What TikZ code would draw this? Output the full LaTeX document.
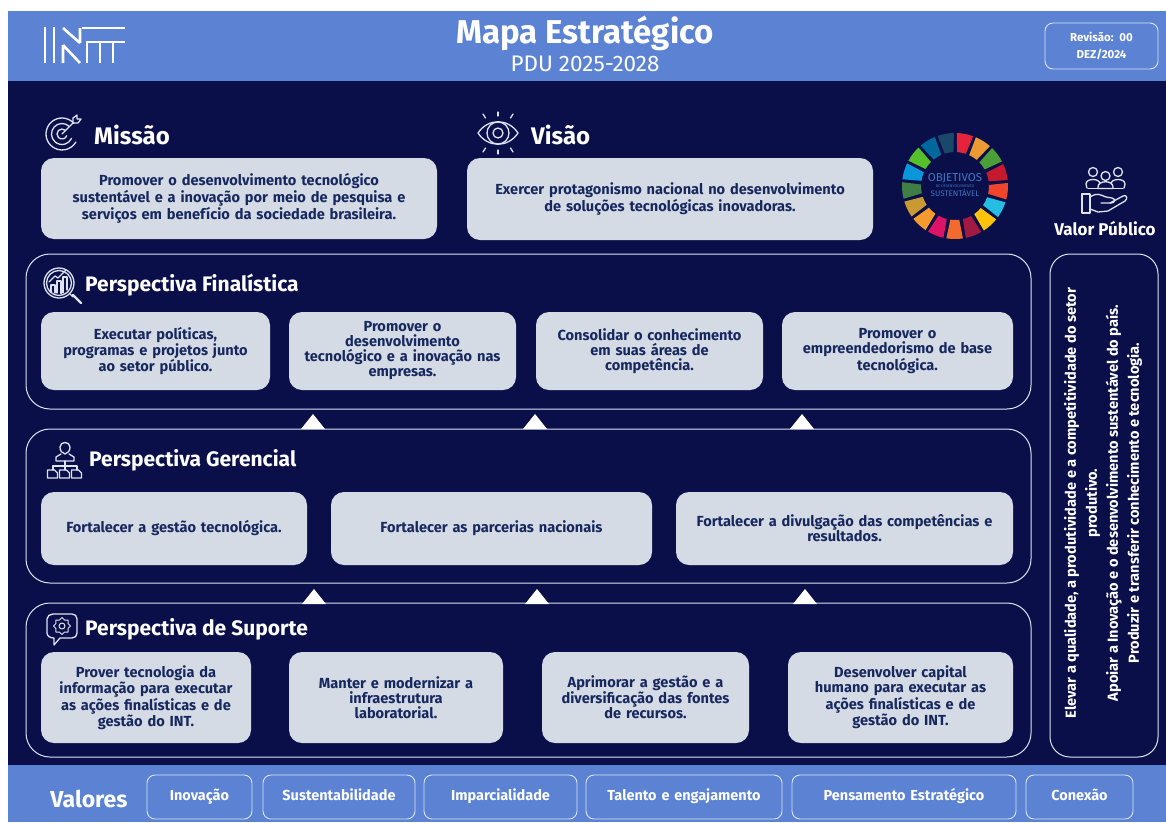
\documentclass[tikz,border=0pt]{standalone}
\usepackage{fontspec}
\setmainfont{Fira Sans}
\definecolor{hdr}{HTML}{5B82D3}
\definecolor{navy}{HTML}{0A0F4A}
\definecolor{card}{HTML}{D4DBE5}
\definecolor{ink}{HTML}{17285F}
\definecolor{frameline}{HTML}{DDE3F0}
\newcommand{\placebox}[7][cardbox]{%
  \pgfmathsetmacro{\cxx}{(#3+#5)/2}\pgfmathsetmacro{\cyy}{(#4+#6)/2}%
  \pgfmathsetmacro{\www}{#5-#3}\pgfmathsetmacro{\hhh}{#6-#4}%
  \node[#1,minimum width=\www pt,minimum height=\hhh pt,text width=\www pt-6pt] (#2) at (\cxx,\cyy) {#7};}
\newcommand{\upmark}[2]{\fill[white] (#1-12,#2+15) -- (#1,#2) -- (#1+12,#2+15) -- cycle;}
\tikzset{
  cardbox/.style={fill=card,rounded corners=13pt,inner sep=0pt,align=center,text=ink,
    font=\fontsize{14.6}{15}\selectfont\bfseries},
  pillbox/.style={draw=frameline,line width=0.9pt,rounded corners=8pt,inner sep=0pt,align=center,text=white,
    font=\fontsize{14.5}{15}\selectfont\bfseries},
  framebox/.style={draw=frameline,line width=1pt,rounded corners=24pt},
  heading/.style={anchor=west,text=white,inner sep=0pt,font=\fontsize{21}{23}\selectfont\bfseries},
  bigheading/.style={heading,font=\fontsize{24}{26}\selectfont\bfseries},
  icon/.style={draw=frameline,line width=1.3pt,line cap=round,line join=round,fill=none},
  logo/.style={draw=white,line width=2.6pt}
}
\begin{document}
\begin{tikzpicture}[x=1pt,y=-1pt]
\useasboundingbox (0,0) rectangle (1166,822);
\fill[white] (0,0) rectangle (1166,822);
\fill[navy] (8,81) rectangle (1166,765);
\fill[hdr] (8,11) rectangle (1166,81);
\fill[hdr] (8,765) rectangle (1166,822);
% logo
\draw[logo] (45,27) -- (45,63) (54,27) -- (54,63);
\draw[logo] (63,28) -- (80,43) (80,28) -- (80,43);
\draw[logo] (63,45) -- (63,63) (63,45) -- (80,63);
\draw[logo] (82,28) -- (125,28);
\draw[logo] (87,63) -- (87,42) -- (100,42) -- (100,63);
\draw[logo] (100,42) -- (125,42) (113,42) -- (113,63);
% title
\node[text=white,inner sep=0pt,font=\fontsize{33}{35}\selectfont\bfseries] (title) at (585,33) {Mapa Estratégico};
\node[text=white,inner sep=0pt,font=\fontsize{22.5}{24}\selectfont] (sub) at (585,64) {PDU 2025-2028};
\placebox[pillbox,font=\fontsize{11.5}{17}\selectfont\bfseries]{rev}{1045}{23}{1158}{69}{Revisão: 00\\DEZ/2024}
% Missao icon
\begin{scope}[shift={(62,134)},y=1pt,icon]
\draw (42:16) arc[start angle=42,end angle=330,radius=16];
\draw (48:10.5) arc[start angle=48,end angle=335,radius=10.5];
\draw (45:5) arc[start angle=45,end angle=340,radius=5];
\draw (0,0) -- (11,11);
\draw (11,11) -- (11,16) -- (15,19) -- (15,15) -- (19,15) -- (16,11) -- cycle;
\end{scope}
\node[bigheading] (missao) at (94,135) {Missão};
% Visao icon
\begin{scope}[shift={(498,133)},icon]
\draw (-20,0) .. controls (-10,-15) and (10,-15) .. (20,0) .. controls (10,15) and (-10,15) .. (-20,0) -- cycle;
\draw (0,0) circle[radius=11];
\draw (0,0) circle[radius=5];
\draw (0,-21) -- (0,-17) (0,21) -- (0,17);
\draw (-15,-19) -- (-12.5,-15) (15,-19) -- (12.5,-15) (-15,19) -- (-12.5,15) (15,19) -- (12.5,15);
\end{scope}
\node[bigheading] (visao) at (531,135) {Visão};
\placebox{mbox}{41}{158}{437}{239}{Promover o desenvolvimento tecnológico\\sustentável e a inovação por meio de pesquisa e\\serviços em benefício da sociedade brasileira.}
\placebox{vbox}{467}{158}{873}{240}{Exercer protagonismo nacional no desenvolvimento\\de soluções tecnológicas inovadoras.}
% SDG wheel
\begin{scope}[shift={(955,186)},y=1pt]
\foreach \k/\c in {0/E5243B,1/EE9A34,2/4C9F38,3/C5192D,4/F0452A,5/26BDE2,6/FCC30B,7/A21942,8/F26A2E,9/DD1367,10/F59B2D,11/C99A34,12/3F7E44,13/0A97D9,14/56C02B,15/00689D,16/19486A}{
  \pgfmathsetmacro{\am}{79-\k*21.176}
  \pgfmathsetmacro{\ao}{\am-9}\pgfmathsetmacro{\ae}{\am+9}
  \pgfmathsetmacro{\ai}{\am-7.5}\pgfmathsetmacro{\aj}{\am+7.5}
  \definecolor{wedge}{HTML}{\c}
  \fill[wedge] (\ai:34) -- (\ao:53) arc[start angle=\ao,end angle=\ae,radius=53] -- (\aj:34) arc[start angle=\aj,end angle=\ai,radius=34] -- cycle;
}
\end{scope}
\definecolor{sdgblue}{HTML}{3F78C4}
\node[text=sdgblue,inner sep=0pt,font=\fontsize{11.5}{12}\selectfont] (sdga) at (955,178) {OBJETIVOS};
\node[text=sdgblue,inner sep=0pt,font=\fontsize{3.8}{4}\selectfont] (sdgb) at (955,186) {DE DESENVOLVIMENTO};
\node[text=sdgblue,inner sep=0pt,font=\fontsize{8}{9}\selectfont] (sdgc) at (955,193) {SUSTENTÁVEL};
% Valor publico icon
\begin{scope}[icon]
\foreach \px/\py in {1093/172,1118/172}{
  \draw (\px,\py) circle[radius=4.5];
  \draw (\px-6,\py+16) -- (\px-7,\py+12) .. controls (\px-7,\py+6) and (\px+7,\py+6) .. (\px+7,\py+12) -- (\px+6,\py+16);
}
\draw[fill=navy] (1105.5,176) circle[radius=4.5];
\draw[fill=navy] (1098,188.5) -- (1098,187) .. controls (1098,180) and (1113,180) .. (1113,187) -- (1113,188.5) -- cycle;
\draw (1088,188.5) -- (1123,188.5);
\draw (1082,194) -- (1090,194) -- (1090,213) -- (1082,213) -- cycle;
\draw (1090,197) .. controls (1098,192) and (1100,195) .. (1106,197) -- (1112,198) .. controls (1116,199) and (1115,203) .. (1111,203) -- (1101,203);
\draw (1110,203) -- (1123,196) .. controls (1127,194) and (1128,199) .. (1125,201) -- (1108,211) -- (1098,212) -- (1090,209);
\end{scope}
\node[text=white,inner sep=0pt,font=\fontsize{17}{19}\selectfont\bfseries] (vp) at (1105,229) {Valor Público};
% frames
\draw[framebox] (26,254) rectangle (1031,409);
\draw[framebox] (26,429) rectangle (1031,583);
\draw[framebox] (26,603) rectangle (1031,757);
\draw[framebox,rounded corners=20pt] (1050,254) rectangle (1158,757);
% Finalistica
\begin{scope}[icon]
\draw (59,283) circle[radius=15];
\draw (59,283) circle[radius=12.5];
\draw (70,294) -- (73,297);
\draw[line width=2.4pt] (73,295) -- (81,303);
\draw (51,292) -- (51,285) -- (55,285) -- (55,293) (57,293) -- (57,281) -- (61,281) -- (61,293.5) (63,293) -- (63,277) -- (67,277) -- (67,290);
\draw (49,282) -- (55,276) -- (58,278) -- (66,270);
\end{scope}
\node[heading] (pf) at (85,285) {Perspectiva Finalística};
\placebox{f1}{41}{312}{270}{390}{Executar políticas,\\programas e projetos junto\\ao setor público.}
\placebox{f2}{289}{312}{516}{390}{Promover o\\desenvolvimento\\tecnológico e a inovação nas\\empresas.}
\placebox{f3}{536}{312}{763}{390}{Consolidar o conhecimento\\em suas áreas de\\competência.}
\placebox{f4}{782}{312}{1013}{390}{Promover o\\empreendedorismo de base\\tecnológica.}
\upmark{313}{414}\upmark{535}{414}\upmark{802}{414}
% Gerencial
\begin{scope}[icon]
\draw (60,447) .. controls (60,441) and (70,441) .. (70,447) .. controls (70,451) and (68,453) .. (65,454) .. controls (62,453) and (60,451) .. (60,447) -- cycle;
\draw (56,461) -- (56,457) -- (61,454) (74,461) -- (74,457) -- (69,454) (56,461) -- (74,461);
\draw (65,461) -- (65,466) (53,470) -- (53,466) -- (77,466) -- (77,470) (65,466) -- (65,470);
\foreach \qx in {47.5,59.5,71.5}{
  \draw (\qx,470) -- (\qx+7,470) -- (\qx+10,473) -- (\qx+10,478) -- (\qx,478) -- cycle;
}
\end{scope}
\node[heading] (pg) at (89,460) {Perspectiva Gerencial};
\placebox{g1}{41}{492}{307}{565}{Fortalecer a gestão tecnológica.}
\placebox{g2}{331}{492}{652}{565}{Fortalecer as parcerias nacionais}
\placebox{g3}{676}{492}{1013}{565}{Fortalecer a divulgação das competências e\\resultados.}
\upmark{314}{589}\upmark{537}{589}\upmark{805}{589}
% Suporte
\begin{scope}[icon]
\draw (53,614) -- (72,614) .. controls (75,614) and (77,616) .. (77,619) -- (77,633) .. controls (77,636) and (75,638) .. (72,638) -- (60,638) -- (54,645) -- (54,638) .. controls (50,638) and (47,636) .. (47,633) -- (47,619) .. controls (47,616) and (50,614) .. (53,614) -- cycle;
\draw[line width=1pt] (62,626) circle[radius=3];
\draw[line width=1pt] (62,626) +(0:8.5) -- +(22.5:6.5) -- +(45:8.5) -- +(67.5:6.5) -- +(90:8.5) -- +(112.5:6.5) -- +(135:8.5) -- +(157.5:6.5) -- +(180:8.5) -- +(202.5:6.5) -- +(225:8.5) -- +(247.5:6.5) -- +(270:8.5) -- +(292.5:6.5) -- +(315:8.5) -- +(337.5:6.5) -- cycle;
\end{scope}
\node[heading] (ps) at (85,629) {Perspectiva de Suporte};
\placebox{s1}{41}{652}{251}{743}{Prover tecnologia da\\informação para executar\\as ações finalísticas e de\\gestão do INT.}
\placebox{s2}{289}{652}{503}{743}{Manter e modernizar a\\infraestrutura\\laboratorial.}
\placebox{s3}{542}{652}{749}{743}{Aprimorar a gestão e a\\diversificação das fontes\\de recursos.}
\placebox{s4}{788}{652}{1013}{743}{Desenvolver capital\\humano para executar as\\ações finalísticas e de\\gestão do INT.}
% right column text
\node[rotate=90,text=white,inner sep=0pt,align=center,font=\fontsize{14.6}{21}\selectfont\bfseries] (vtext) at (1103,503)
 {Elevar a qualidade, a produtividade e a competitividade do setor\\produtivo.\\Apoiar a Inovação e o desenvolvimento sustentável do país.\\Produzir e transferir conhecimento e tecnologia.};
% Valores
\node[text=white,inner sep=0pt,font=\fontsize{23}{25}\selectfont\bfseries] (val) at (89,799) {Valores};
\placebox[pillbox]{p1}{147}{775}{252}{819}{\strut Inovação}
\placebox[pillbox]{p2}{263}{775}{415}{819}{\strut Sustentabilidade}
\placebox[pillbox]{p3}{424}{775}{577}{819}{\strut Imparcialidade}
\placebox[pillbox]{p4}{586}{775}{782}{819}{\strut Talento e engajamento}
\placebox[pillbox]{p5}{792}{775}{1016}{819}{\strut Pensamento Estratégico}
\placebox[pillbox]{p6}{1026}{775}{1133}{819}{\strut Conexão}
\end{tikzpicture}
\end{document}
